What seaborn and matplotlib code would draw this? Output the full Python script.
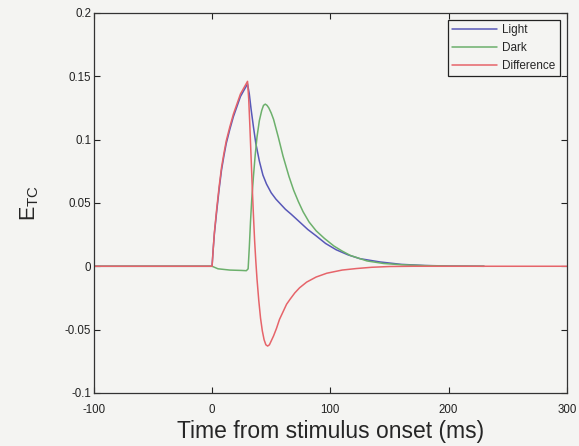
import numpy as np
import pandas as pd
import matplotlib
matplotlib.use('Agg')
import matplotlib.pyplot as plt
import seaborn as sns

# values (time in ms, E_TC)
lightTime = [-100, 0, 1, 2, 4, 6, 8, 10, 12, 15, 18, 21, 24, 27, 30, 31.5, 33, 35,
	37, 40, 43, 46, 50, 54, 58, 62, 67, 74, 81, 88, 96, 105, 115, 125, 142, 160,
	180, 200, 230]
lightVal = [0, 0, 0.014, 0.026, 0.044, 0.061, 0.076, 0.087, 0.097, 0.108, 0.118,
	0.126, 0.134, 0.139, 0.144, 0.136, 0.124, 0.110, 0.097, 0.083, 0.072, 0.065,
	0.058, 0.053, 0.049, 0.045, 0.041, 0.035, 0.029, 0.024, 0.018, 0.013, 0.009,
	0.006, 0.0034, 0.0015, 0.0006, 0.0002, 0]

darkTime = [-100, 0, 5, 15, 25, 29, 30.5, 31.5, 32.5, 33.5, 35, 36.5, 38, 40, 42,
	43.5, 45, 46.5, 48, 50, 52, 56, 60, 65, 69, 73, 77, 82, 88, 95, 103, 110, 117,
	131, 145, 160, 180, 200, 230]
darkVal = [0, 0, -0.002, -0.003, -0.0033, -0.0035, -0.002, 0.015, 0.035, 0.052,
	0.071, 0.088, 0.102, 0.115, 0.123, 0.127, 0.128, 0.127, 0.125, 0.121, 0.116,
	0.102, 0.087, 0.071, 0.060, 0.051, 0.043, 0.035, 0.028, 0.022, 0.016, 0.012,
	0.0085, 0.0042, 0.0022, 0.0012, 0.0005, 0.0001, 0]

diffTime = [-100, 0, 1, 2, 4, 6, 8, 10, 12, 15, 18, 21, 24, 27, 30, 31, 32, 33,
	34, 35, 36, 37, 38, 39.5, 41, 42.5, 44, 45.5, 47, 48.5, 50, 52, 54.5, 57, 60,
	63, 66, 70, 74, 80, 88, 97, 110, 122, 135, 150, 170, 300]
diffVal = [0, 0, 0.014, 0.027, 0.046, 0.063, 0.078, 0.089, 0.099, 0.110, 0.120,
	0.128, 0.136, 0.141, 0.146, 0.132, 0.110, 0.086, 0.062, 0.040, 0.020, 0.004,
	-0.010, -0.027, -0.041, -0.051, -0.058, -0.062, -0.063, -0.062, -0.059,
	-0.055, -0.049, -0.042, -0.036, -0.030, -0.026, -0.021, -0.017, -0.0125,
	-0.0085, -0.0055, -0.003, -0.0018, -0.0008, -0.0002, 0, 0]

def run():
	df = pd.concat([
		pd.DataFrame({'t': lightTime, 'E': lightVal, 'series': 'Light'}),
		pd.DataFrame({'t': darkTime, 'E': darkVal, 'series': 'Dark'}),
		pd.DataFrame({'t': diffTime, 'E': diffVal, 'series': 'Difference'}),
	], ignore_index=True)

	palette = {
		'Light': '#5858b8',
		'Dark': '#6cb06c',
		'Difference': '#e6646a',
	}

	sns.set_style('ticks')
	plt.rcParams['font.family'] = ['Liberation Sans', 'DejaVu Sans']
	plt.rcParams['axes.unicode_minus'] = False

	fig = plt.figure(figsize=(5.79, 4.46), dpi=100, facecolor='#f4f4f2')
	ax = fig.add_axes([0.162, 0.119, 0.817, 0.852])
	ax.set_facecolor('#f4f4f2')

	sns.lineplot(x='t', y='E', hue='series', palette=palette, data=df,
		estimator=None, linewidth=1.1, ax=ax)

	ax.set_xlim(-100, 300)
	ax.set_ylim(-0.1, 0.2)
	ax.set_xticks([-100, 0, 100, 200, 300])
	ax.set_yticks([-0.1, -0.05, 0, 0.05, 0.1, 0.15, 0.2])
	ax.set_yticklabels(['-0.1', '-0.05', '0', '0.05', '0.1', '0.15', '0.2'])
	ax.tick_params(direction='in', length=4, width=0.8, labelsize=8.3,
		top=True, right=True, colors='#222222')
	ax.tick_params(axis='x', pad=8)
	ax.tick_params(axis='y', pad=2)
	for s in ax.spines.values():
		s.set_linewidth(0.9)
		s.set_color('#333333')

	ax.set_xlabel('Time from stimulus onset (ms)', fontsize=16.5, labelpad=3)
	ax.set_ylabel(r'$\mathregular{E_{TC}}$', fontsize=15.5, labelpad=17)

	leg = ax.legend(loc='upper right', bbox_to_anchor=(0.985, 0.982), fontsize=8.5,
		frameon=True, fancybox=False, edgecolor='#222222', framealpha=1,
		facecolor='#f4f4f2', handlelength=3.8, handletextpad=0.45,
		labelspacing=0.5, borderpad=0.35, borderaxespad=0)
	leg.get_frame().set_linewidth(0.9)
	leg.set_title(None)

	fig.savefig('out.png', dpi=100, facecolor=fig.get_facecolor())

if __name__ == '__main__':
	run()
